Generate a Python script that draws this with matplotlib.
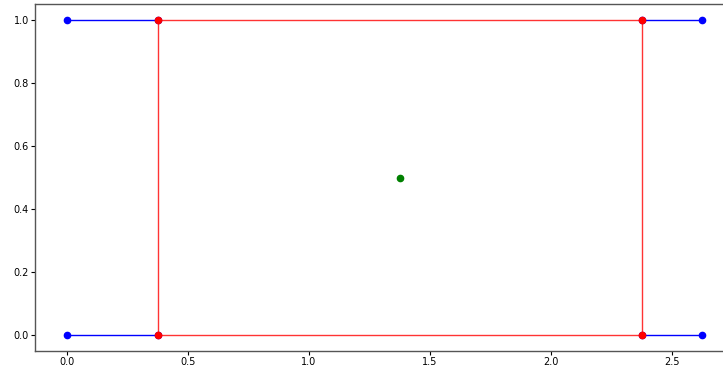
import matplotlib
matplotlib.use("Agg")
import matplotlib.pyplot as plt

# outer (blue) rectangle corners
outer_x = [0.0, 2.625]
outer_y = [0.0, 1.0]
# inner (red) rectangle corners
inner_x = [0.375, 2.375]
inner_y = [0.0, 1.0]
# centre point
center_x = [1.375]
center_y = [0.5]

fig = plt.figure(figsize=(7.23, 3.66), dpi=100)
ax = fig.add_axes([35/723, 15/366, 699/723, 347/366])

ms = 4.5
lw = 1.0
# blue side segments
for y in outer_y:
    ax.plot([outer_x[0], inner_x[0]], [y, y], color='blue', lw=lw, marker='o', ms=ms, zorder=2)
    ax.plot([inner_x[1], outer_x[1]], [y, y], color='blue', lw=lw, marker='o', ms=ms, zorder=2)

# red rectangle
rx = [inner_x[0], inner_x[1], inner_x[1], inner_x[0], inner_x[0]]
ry = [inner_y[0], inner_y[0], inner_y[1], inner_y[1], inner_y[0]]
ax.plot(rx, ry, color='red', lw=lw, alpha=0.8, zorder=3)
ax.plot([inner_x[0], inner_x[1], inner_x[1], inner_x[0]],
        [inner_y[0], inner_y[0], inner_y[1], inner_y[1]],
        linestyle='none', marker='o', ms=ms, color='red', zorder=4)

ax.plot(center_x, center_y, linestyle='none', marker='o', ms=ms, color='green', zorder=4)

ax.set_xticks([0.0, 0.5, 1.0, 1.5, 2.0, 2.5])
ax.set_yticks([0.0, 0.2, 0.4, 0.6, 0.8, 1.0])
ax.tick_params(labelsize=7, length=3, width=0.8, pad=1.5)
for s in ax.spines.values():
    s.set_color('#555555')
    s.set_linewidth(1.0)

fig.savefig('out.png', dpi=100)
